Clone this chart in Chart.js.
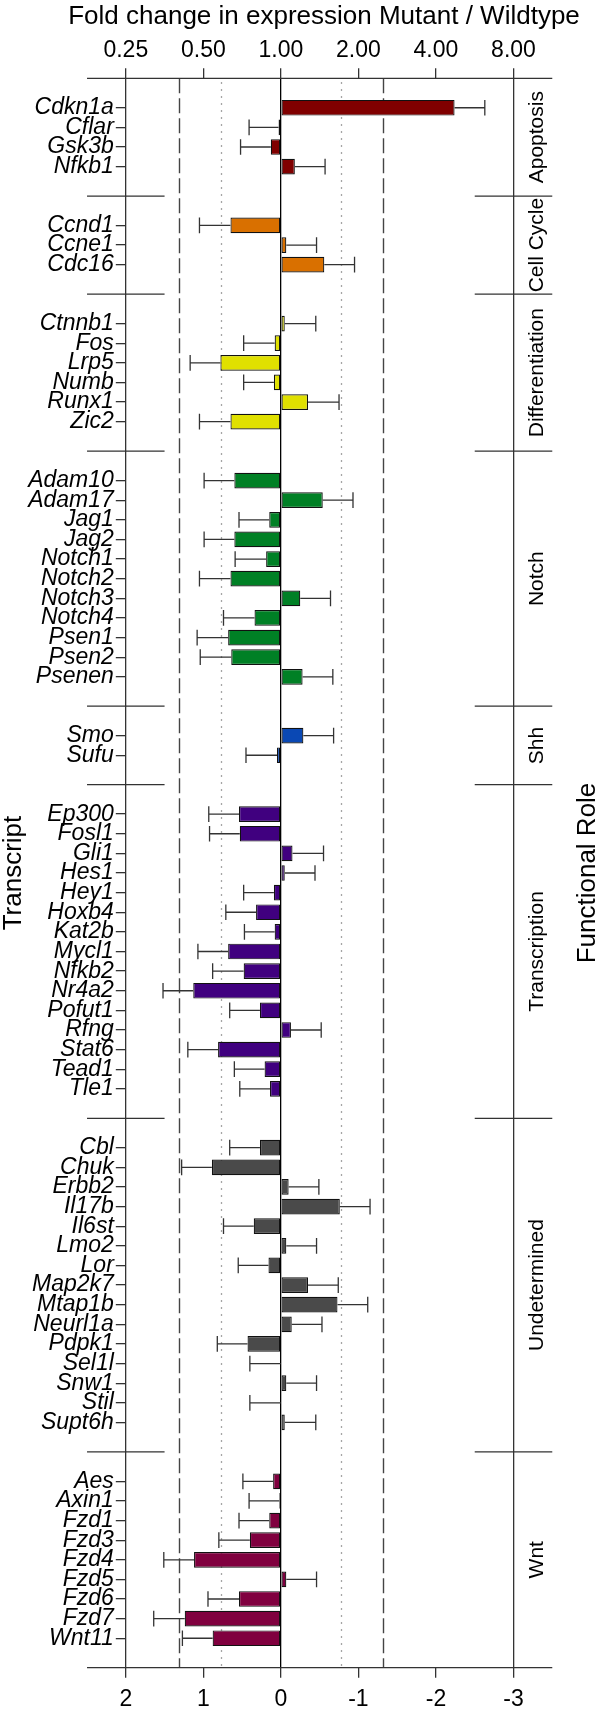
<!DOCTYPE html>
<html>
<head>
<meta charset="utf-8">
<script src="https://cdn.jsdelivr.net/npm/chart.js@4.4.0/dist/chart.umd.min.js"></script>
<style>
  html, body { margin: 0; padding: 0; background: #fff; }
  #wrap { width: 600px; height: 1712px; }
</style>
</head>
<body>
<div id="wrap"><canvas id="fold-chart" width="600" height="1712"></canvas></div>
<script>
// functional roles, top to bottom
const roles = ['Apoptosis', 'Cell Cycle', 'Differentiation', 'Notch', 'Shh', 'Transcription', 'Undetermined', 'Wnt'];
const roleColors = ['#800000', '#d97000', '#e0e000', '#008025', '#0a48b4', '#40007f', '#4a4a4a', '#80003f'];

const transcripts = [
  'Cdkn1a', 'Cflar', 'Gsk3b', 'Nfkb1',
  'Ccnd1', 'Ccne1', 'Cdc16',
  'Ctnnb1', 'Fos', 'Lrp5', 'Numb', 'Runx1', 'Zic2',
  'Adam10', 'Adam17', 'Jag1', 'Jag2', 'Notch1', 'Notch2', 'Notch3', 'Notch4', 'Psen1', 'Psen2', 'Psenen',
  'Smo', 'Sufu',
  'Ep300', 'Fosl1', 'Gli1', 'Hes1', 'Hey1', 'Hoxb4', 'Kat2b', 'Mycl1', 'Nfkb2', 'Nr4a2', 'Pofut1', 'Rfng', 'Stat6', 'Tead1', 'Tle1',
  'Cbl', 'Chuk', 'Erbb2', 'Il17b', 'Il6st', 'Lmo2', 'Lor', 'Map2k7', 'Mtap1b', 'Neurl1a', 'Pdpk1', 'Sel1l', 'Snw1', 'Stil', 'Supt6h',
  'Aes', 'Axin1', 'Fzd1', 'Fzd3', 'Fzd4', 'Fzd5', 'Fzd6', 'Fzd7', 'Wnt11'
];
const transcriptRole = [
  'Apoptosis', 'Apoptosis', 'Apoptosis', 'Apoptosis',
  'Cell Cycle', 'Cell Cycle', 'Cell Cycle',
  'Differentiation', 'Differentiation', 'Differentiation', 'Differentiation', 'Differentiation', 'Differentiation',
  'Notch', 'Notch', 'Notch', 'Notch', 'Notch', 'Notch', 'Notch', 'Notch', 'Notch', 'Notch', 'Notch',
  'Shh', 'Shh',
  'Transcription', 'Transcription', 'Transcription', 'Transcription', 'Transcription', 'Transcription', 'Transcription', 'Transcription',
  'Transcription', 'Transcription', 'Transcription', 'Transcription', 'Transcription', 'Transcription', 'Transcription',
  'Undetermined', 'Undetermined', 'Undetermined', 'Undetermined', 'Undetermined', 'Undetermined', 'Undetermined', 'Undetermined',
  'Undetermined', 'Undetermined', 'Undetermined', 'Undetermined', 'Undetermined', 'Undetermined', 'Undetermined',
  'Wnt', 'Wnt', 'Wnt', 'Wnt', 'Wnt', 'Wnt', 'Wnt', 'Wnt', 'Wnt'
];
// delta delta Ct (bottom axis), positive = lower in mutant
const ddCt = [
  -2.24, 0.03, 0.13, -0.18,
  0.65, -0.07, -0.56,
  -0.05, 0.08, 0.78, 0.09, -0.35, 0.65,
  0.60, -0.54, 0.15, 0.60, 0.19, 0.65, -0.25, 0.34, 0.68, 0.64, -0.28,
  -0.29, 0.05,
  0.54, 0.53, -0.15, -0.05, 0.09, 0.32, 0.08, 0.68, 0.48, 1.13, 0.27, -0.13, 0.81, 0.21, 0.14,
  0.27, 0.89, -0.10, -0.76, 0.35, -0.07, 0.16, -0.35, -0.73, -0.14, 0.43, 0.00, -0.07, 0.00, -0.05,
  0.10, 0.02, 0.15, 0.40, 1.12, -0.07, 0.54, 1.24, 0.88
];
const ddCtErr = [
  0.39, 0.38, 0.39, 0.39,
  0.40, 0.39, 0.39,
  0.40, 0.40, 0.39, 0.39, 0.40, 0.40,
  0.39, 0.39, 0.39, 0.39, 0.40, 0.40, 0.39, 0.40, 0.40, 0.40, 0.39,
  0.39, 0.40,
  0.39, 0.39, 0.40, 0.39, 0.39, 0.39, 0.39, 0.39, 0.40, 0.39, 0.39, 0.39, 0.39, 0.39, 0.39,
  0.39, 0.39, 0.39, 0.39, 0.39, 0.39, 0.39, 0.39, 0.39, 0.39, 0.39, 0.40, 0.39, 0.40, 0.40,
  0.39, 0.39, 0.39, 0.40, 0.39, 0.39, 0.40, 0.40, 0.39
];

const bottomTicks = [2, 1, 0, -1, -2, -3];
const foldTicks = ['0.25', '0.50', '1.00', '2.00', '4.00', '8.00'];
const dashedCutoffs = [1.32, -1.32];
const dottedCutoffs = [0.77, -0.77];

// rows with blank spacer rows between roles (lattice style panels)
let rowLabels = [''];
let rowValues = [null];
let rowErr = [null];
let rowColors = ['rgba(0,0,0,0)'];
let sepRows = [];
roles.forEach((role, k) => {
  if (k > 0) {
    sepRows.push(rowLabels.length);
    rowLabels.push('', '');
    rowValues.push(null, null);
    rowErr.push(null, null);
    rowColors.push('rgba(0,0,0,0)', 'rgba(0,0,0,0)');
  }
  transcripts.forEach((t, i) => {
    if (transcriptRole[i] === role) {
      rowLabels.push(t);
      rowValues.push(ddCt[i]);
      rowErr.push(ddCtErr[i]);
      rowColors.push(roleColors[k]);
    }
  });
});
rowLabels.push('');
rowValues.push(null);
rowErr.push(null);
rowColors.push('rgba(0,0,0,0)');

const FONT = '"Liberation Sans", Arial, Helvetica, sans-serif';
Chart.defaults.font.family = FONT;
Chart.defaults.color = '#000';

const lineCol = '#333';

function rotatedText(ctx, text, x, y) {
  ctx.save();
  ctx.translate(x, y);
  ctx.rotate(-Math.PI / 2);
  ctx.fillText(text, 0, 0);
  ctx.restore();
}

const latticePlugin = {
  id: 'lattice',
  beforeDatasetsDraw(chart) {
    const { ctx, chartArea } = chart;
    const x = chart.scales.x;
    ctx.save();
    ctx.lineWidth = 1.4;
    ctx.strokeStyle = '#444';
    ctx.setLineDash([15, 5]);
    dashedCutoffs.forEach(v => {
      const px = Math.round(x.getPixelForValue(v)) + 0.5;
      ctx.beginPath();
      ctx.moveTo(px, chartArea.top);
      ctx.lineTo(px, chartArea.bottom);
      ctx.stroke();
    });
    ctx.strokeStyle = '#888';
    ctx.lineWidth = 1.3;
    ctx.setLineDash([1.5, 5.5]);
    dottedCutoffs.forEach(v => {
      const px = Math.round(x.getPixelForValue(v)) + 0.5;
      ctx.beginPath();
      ctx.moveTo(px, chartArea.top + 4);
      ctx.lineTo(px, chartArea.bottom);
      ctx.stroke();
    });
    ctx.restore();
  },
  afterDatasetsDraw(chart) {
    const { ctx } = chart;
    const x = chart.scales.x;
    const y = chart.scales.y;
    const rowH = y.getPixelForValue(1) - y.getPixelForValue(0);
    const cap = rowH * 0.8 / 2;
    ctx.save();
    ctx.strokeStyle = lineCol;
    ctx.lineWidth = 1.3;
    rowValues.forEach((v, i) => {
      if (v === null) return;
      const dir = v >= 0 ? 1 : -1;
      const py = y.getPixelForValue(i);
      const x0 = x.getPixelForValue(v);
      const x1 = x.getPixelForValue(v + dir * rowErr[i]);
      ctx.beginPath();
      ctx.moveTo(x0, py);
      ctx.lineTo(x1, py);
      ctx.moveTo(x1, py - cap);
      ctx.lineTo(x1, py + cap);
      ctx.stroke();
    });
    ctx.restore();
  },
  afterDraw(chart) {
    const { ctx, chartArea } = chart;
    const x = chart.scales.x;
    const y = chart.scales.y;
    const xl = x.getPixelForValue(2.5);
    const xr = x.getPixelForValue(-3.5);
    const xin1 = x.getPixelForValue(1.5);
    const xin2 = x.getPixelForValue(-2.5);
    ctx.save();
    ctx.strokeStyle = lineCol;
    ctx.lineWidth = 1.3;
    ctx.beginPath();
    ctx.moveTo(xl, chartArea.top);
    ctx.lineTo(xr, chartArea.top);
    ctx.moveTo(xl, chartArea.bottom);
    ctx.lineTo(xr, chartArea.bottom);
    const sepY = sepRows.map(r => (y.getPixelForValue(r) + y.getPixelForValue(r + 1)) / 2);
    sepY.forEach(py => {
      ctx.moveTo(xl, py);
      ctx.lineTo(xin1, py);
      ctx.moveTo(xin2, py);
      ctx.lineTo(xr, py);
    });
    ctx.stroke();

    ctx.fillStyle = '#000';
    ctx.textAlign = 'center';
    ctx.textBaseline = 'middle';

    // strip labels
    ctx.font = '21px ' + FONT;
    roles.forEach((role, k) => {
      const top = k === 0 ? chartArea.top : sepY[k - 1];
      const bot = k === roles.length - 1 ? chartArea.bottom : sepY[k];
      rotatedText(ctx, role, 537, (top + bot) / 2);
    });

    // axis titles
    const midY = (chartArea.top + chartArea.bottom) / 2;
    ctx.font = '26px ' + FONT;
    rotatedText(ctx, 'Functional Role', 588, midY);
    rotatedText(ctx, 'Transcript', 14, midY);
    ctx.textBaseline = 'alphabetic';
    ctx.fillText('Fold change in expression Mutant / Wildtype', 324, 23.5);
    ctx.restore();
  }
};

const chart = new Chart(document.getElementById('fold-chart'), {
  type: 'bar',
  data: {
    labels: rowLabels,
    datasets: [{
      data: rowValues,
      backgroundColor: rowColors,
      borderColor: '#111',
      borderWidth: 1.2,
      borderSkipped: false,
      barPercentage: 0.8,
      categoryPercentage: 1.0
    }]
  },
  options: {
    indexAxis: 'y',
    responsive: false,
    animation: false,
    devicePixelRatio: 1,
    layout: { padding: { left: 0, right: 86.5, top: 0, bottom: 0 } },
    plugins: {
      legend: { display: false },
      tooltip: { enabled: false }
    },
    scales: {
      x: {
        type: 'linear',
        position: 'bottom',
        min: -3,
        max: 2,
        reverse: true,
        afterFit: s => { s.height = 44.3; },
        ticks: {
          stepSize: 1,
          padding: 8,
          font: { size: 23 },
          color: '#000',
          callback: v => bottomTicks.includes(v) ? String(v) : ''
        },
        grid: {
          color: c => {
            const v = c.tick ? c.tick.value : null;
            if (v === 0) return '#000';
            if (v === 2 || v === -3) return lineCol;
            return 'rgba(0,0,0,0)';
          },
          lineWidth: 1.3,
          tickColor: lineCol,
          tickLength: 10
        },
        border: { display: false }
      },
      x2: {
        type: 'linear',
        position: 'top',
        min: -3,
        max: 2,
        reverse: true,
        afterFit: s => { s.height = 78.3; },
        ticks: {
          stepSize: 1,
          padding: 4,
          font: { size: 23 },
          color: '#000',
          callback: v => {
            const i = bottomTicks.indexOf(v);
            return i >= 0 ? foldTicks[i] : '';
          }
        },
        grid: {
          drawOnChartArea: false,
          lineWidth: 1.3,
          color: lineCol,
          tickColor: lineCol,
          tickLength: 10
        },
        border: { display: false }
      },
      y: {
        type: 'category',
        position: 'left',
        offset: true,
        afterFit: s => { s.width = 125.8; },
        ticks: {
          autoSkip: false,
          padding: 2,
          font: { size: 23, style: 'italic' },
          color: '#000'
        },
        grid: {
          offset: false,
          drawOnChartArea: false,
          lineWidth: 1.3,
          tickLength: 10,
          tickColor: c => rowLabels[c.index] ? lineCol : 'rgba(0,0,0,0)',
          color: 'rgba(0,0,0,0)'
        },
        border: { display: false }
      }
    }
  },
  plugins: [latticePlugin]
});
</script>
</body>
</html>
